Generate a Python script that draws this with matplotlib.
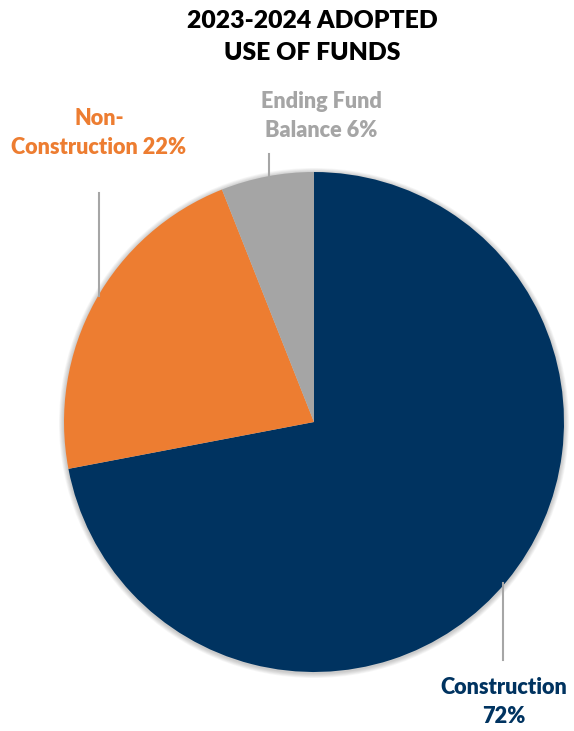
import matplotlib.pyplot as plt
from matplotlib.patches import Circle

# use of funds, share of total (%)
categories = ['Construction', 'Non-Construction', 'Ending Fund Balance']
shares = [72, 22, 6]
colors = ['#003360', '#ED7D31', '#A5A5A5']

W, H = 574, 731
fig = plt.figure(figsize=(W / 100, H / 100), dpi=100)
ax = fig.add_axes([0, 0, 1, 1])
ax.set_xlim(0, W)
ax.set_ylim(0, H)
ax.set_aspect('equal')
ax.axis('off')

font = ['Lato', 'DejaVu Sans']
wt = 'heavy'
cx, cy, r = 314, H - 422, 250

# soft shadow around the pie
for k in range(6):
    ax.add_patch(Circle((cx, cy - 1), r + 1 + k * 0.8, color='black',
                        alpha=0.035, lw=0, zorder=0))

ax.pie(shares, colors=colors, startangle=90, counterclock=False,
       center=(cx, cy), radius=r, frame=True,
       wedgeprops=dict(linewidth=0))
ax.set_xlim(0, W)
ax.set_ylim(0, H)
ax.axis('off')

# leader lines
lc = '#A6A6A6'
ax.plot([503, 503], [H - 583, H - 660], color=lc, lw=1.5)
ax.plot([99, 99], [H - 193, H - 296], color=lc, lw=1.5)
ax.plot([269, 269], [H - 154, H - 178], color=lc, lw=1.5)

# labels
ax.text(504, H - 702, f'{categories[0]}\n{shares[0]}%', ha='center', va='center',
        fontsize=15.6, fontweight=wt, color=colors[0], family=font,
        linespacing=1.45)
ax.text(99, H - 133, f'Non-\nConstruction {shares[1]}%', ha='center', va='center',
        fontsize=15.6, fontweight=wt, color=colors[1], family=font,
        linespacing=1.45)
ax.text(321, H - 116, f'Ending Fund\nBalance {shares[2]}%', ha='center', va='center',
        fontsize=15.6, fontweight=wt, color=colors[2], family=font,
        linespacing=1.45)

# title
ax.text(312, H - 37, '2023-2024 ADOPTED\nUSE OF FUNDS', ha='center', va='center',
        fontsize=17.8, fontweight=wt, color='black', family=font,
        linespacing=1.5)

fig.savefig('out.png', dpi=100)
